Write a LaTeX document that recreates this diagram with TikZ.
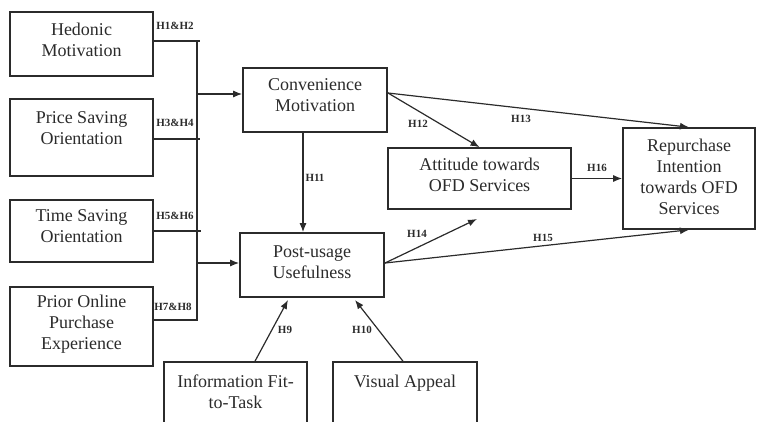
\documentclass[tikz,border=0pt]{standalone}
\usepackage{fontspec}
\setmainfont{Liberation Serif}
\usetikzlibrary{arrows.meta,calc}
\definecolor{ink}{HTML}{2B2B2B}
\tikzset{
  box/.style={draw=ink, line width=1.6pt, rectangle, inner sep=0pt},
  txt/.style={text=ink, font=\fontsize{18}{21}\selectfont, align=center, inner sep=0pt},
  hyp/.style={text=ink, font=\fontsize{11}{12}\bfseries\selectfont, inner sep=0pt},
  wire/.style={draw=ink, line width=1.2pt},
  arr/.style={wire, -{Latex[length=9pt,width=7pt]}},
}
\begin{document}
\begin{tikzpicture}[x=1pt,y=-1pt]
\useasboundingbox (0,0) rectangle (757,421);
\clip (0,0) rectangle (757,421);

% construct boxes
\node[box, minimum width=143, minimum height=64] (hed) at (81.5,44) {};
\node[box, minimum width=143, minimum height=77] (price) at (81.5,137.5) {};
\node[box, minimum width=143, minimum height=62] (time) at (81.5,231) {};
\node[box, minimum width=143, minimum height=79] (prior) at (81.5,326.5) {};
\node[box, minimum width=144, minimum height=64] (conv) at (315,100) {};
\node[box, minimum width=144, minimum height=64] (post) at (312,265) {};
\node[box, minimum width=183, minimum height=61] (att) at (479.5,178.5) {};
\node[box, minimum width=132, minimum height=101] (rep) at (689,178.5) {};
\node[box, minimum width=143, minimum height=80] (info) at (235.5,402) {};
\node[box, minimum width=144, minimum height=80] (vis) at (405,402) {};

% box captions
\node[txt] (hedt) at (81.5,40) {Hedonic\\Motivation};
\node[txt] (pricet) at (81.5,128) {Price Saving\\Orientation};
\node[txt] (timet) at (81.5,226) {Time Saving\\Orientation};
\node[txt] (priort) at (81.5,324) {Prior Online\\Purchase\\Experience};
\node[txt] (convt) at (315,95) {Convenience\\Motivation};
\node[txt] (postt) at (312,262) {Post-usage\\Usefulness};
\node[txt] (attt) at (479.5,174.5) {Attitude towards\\OFD Services};
\node[txt] (rept) at (689,177) {Repurchase\\Intention\\towards OFD\\Services};
\node[txt] (infot) at (235.5,392) {Information Fit-\\to-Task};
\node[txt] (vist) at (405,383) {Visual Appeal};

% collecting bus on the left
\coordinate (bt) at (197,41);
\coordinate (bb) at (197,321);
\draw[wire] (bt) -- (bb);
\coordinate (b1) at (200,41);
\coordinate (b2) at (200,139);
\coordinate (b3) at (201,231);
\coordinate (b4) at (197,320);
\draw[wire] (hed.east |- b1) -- (b1);
\draw[wire] (price.east |- b2) -- (b2);
\draw[wire] (time.east |- b3) -- (b3);
\draw[wire] (prior.east |- b4) -- (b4);
\coordinate (bc) at (197,94);
\coordinate (bp) at (197,263);
\draw[arr] (bc) -- (bc -| conv.west);
\draw[arr] (bp) -- (bp -| post.west);

% paths between constructs
\coordinate (h11) at (303,0);
\draw[arr] (conv.south -| h11) -- (post.north -| h11);
\coordinate (cs) at (388,93);
\draw[arr] (cs) -- (att.north);
\draw[arr] (cs) -- (rep.north);
\draw[arr] (att.east) -- (rep.west);
\coordinate (ps) at (385,263);
\coordinate (pa) at (477,219);
\draw[arr] (ps) -- (pa);
\draw[arr] (ps) -- (rep.south);
\coordinate (ie) at (288,300);
\coordinate (ve) at (355,300);
\draw[arr] (info.north -| 255,0) -- (ie);
\draw[arr] (vis.north -| 403,0) -- (ve);

% hypothesis labels
\node[hyp] (l12) at (175,26) {H1\&H2};
\node[hyp] (l34) at (175,123) {H3\&H4};
\node[hyp] (l56) at (175,216) {H5\&H6};
\node[hyp] (l78) at (173,307) {H7\&H8};
\node[hyp] (l9) at (285,330) {H9};
\node[hyp] (l10) at (362,330) {H10};
\node[hyp] (l11) at (315,178) {H11};
\node[hyp] (l12b) at (418,124) {H12};
\node[hyp] (l13) at (521,119) {H13};
\node[hyp] (l14) at (417,234) {H14};
\node[hyp] (l15) at (543,238) {H15};
\node[hyp] (l16) at (597,168) {H16};
\end{tikzpicture}
\end{document}
